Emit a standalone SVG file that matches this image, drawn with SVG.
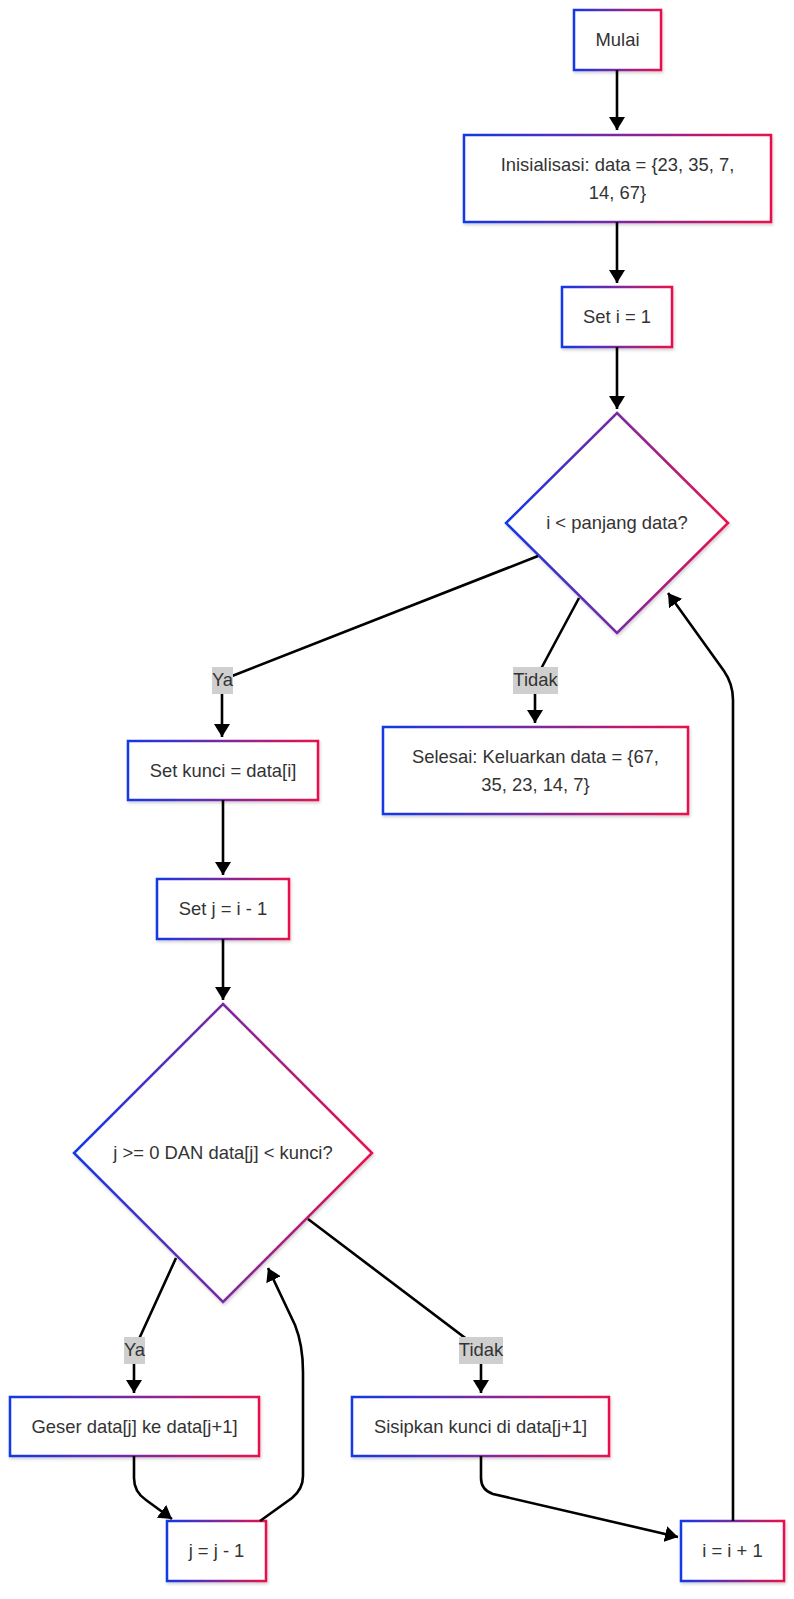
<svg xmlns="http://www.w3.org/2000/svg" width="794" height="1599" viewBox="0 0 794 1599">
<defs>
<linearGradient id="g" x1="0" y1="0" x2="1" y2="0">
<stop offset="0" stop-color="#1238e6"/>
<stop offset="0.5" stop-color="#7a2aa0"/>
<stop offset="1" stop-color="#e8114c"/>
</linearGradient>
<filter id="sh" x="-10%" y="-10%" width="130%" height="130%">
<feDropShadow dx="1" dy="2" stdDeviation="1.5" flood-color="#000" flood-opacity="0.18"/>
</filter>
<marker id="arr" viewBox="0 0 13 16" refX="13" refY="8" markerWidth="13" markerHeight="16" markerUnits="userSpaceOnUse" orient="auto">
<path d="M0,0 L13,8 L0,16 z" fill="#000"/>
</marker>
</defs>
<style>
.n{fill:#fff;stroke:url(#g);stroke-width:2.5;filter:url(#sh)}
.t{font-family:"Liberation Sans",Arial,sans-serif;font-size:18.4px;fill:#333;text-anchor:middle}
.e{fill:none;stroke:#000;stroke-width:2.6;marker-end:url(#arr)}
.lb{fill:#cfcfcf}
</style>
<rect width="794" height="1599" fill="#fff"/>
<g id="nodes">
<g id="mulai"><rect class="n" x="574" y="10" width="87" height="60"/><text class="t" x="617.5" y="46">Mulai</text></g>
<g id="init"><rect class="n" x="464" y="135" width="307" height="87"/><text class="t" x="617.5" y="171">Inisialisasi: data = {23, 35, 7,</text><text class="t" x="617.5" y="199">14, 67}</text></g>
<g id="seti"><rect class="n" x="562" y="287" width="110" height="60"/><text class="t" x="617" y="323">Set i = 1</text></g>
<g id="cek1"><polygon class="n" points="617,413 728,523 617,633 506,523"/><text class="t" x="617" y="529">i &lt; panjang data?</text></g>
<g id="kunci"><rect class="n" x="128" y="741" width="190" height="59"/><text class="t" x="223" y="777">Set kunci = data[i]</text></g>
<g id="selesai"><rect class="n" x="383" y="727" width="305" height="87"/><text class="t" x="535.5" y="763">Selesai: Keluarkan data = {67,</text><text class="t" x="535.5" y="791">35, 23, 14, 7}</text></g>
<g id="setj"><rect class="n" x="157" y="879" width="132" height="60"/><text class="t" x="223" y="915">Set j = i - 1</text></g>
<g id="cek2"><polygon class="n" points="223,1004 372,1153 223,1302 74,1153"/><text class="t" x="223" y="1159">j &gt;= 0 DAN data[j] &lt; kunci?</text></g>
<g id="geser"><rect class="n" x="10" y="1397" width="249" height="59"/><text class="t" x="134.5" y="1433">Geser data[j] ke data[j+1]</text></g>
<g id="sisip"><rect class="n" x="352" y="1397" width="257" height="59"/><text class="t" x="480.5" y="1433">Sisipkan kunci di data[j+1]</text></g>
<g id="jdec"><rect class="n" x="167" y="1521" width="99" height="60"/><text class="t" x="216.5" y="1557">j = j - 1</text></g>
<g id="iinc"><rect class="n" x="681" y="1521" width="103" height="60"/><text class="t" x="732.5" y="1557">i = i + 1</text></g>
</g>
<g id="connectors">
<path class="e" d="M617,70 L617,130"/>
<path class="e" d="M617,222 L617,283"/>
<path class="e" d="M617,347 L617,409"/>
<path class="e" d="M538,556 L222,680 L222,737"/>
<path class="e" d="M579,598 L535,680 L535,723"/>
<path class="e" d="M223,800 L223,875"/>
<path class="e" d="M223,939 L223,1000"/>
<path class="e" d="M176,1258 L134,1350 L134,1393"/>
<path class="e" d="M308,1219 L481,1350 L481,1393"/>
<path class="e" d="M134,1456 L134,1478 Q134,1492 146,1500 L172,1519"/>
<path class="e" d="M260,1521 L292,1498 Q303,1489 303,1476 L303,1372 Q303,1345 295,1325 L268,1268"/>
<path class="e" d="M481,1456 L481,1478 Q481,1490 493,1494 L678,1537"/>
<path class="e" d="M733,1521 L733,700 Q733,684 724,671 L668,593"/>
</g>
<g id="labels">
<g><rect class="lb" x="212" y="667" width="21" height="27"/><text class="t" x="222.5" y="686">Ya</text></g>
<g><rect class="lb" x="513" y="667" width="45" height="27"/><text class="t" x="535.5" y="686">Tidak</text></g>
<g><rect class="lb" x="124" y="1337" width="21" height="27"/><text class="t" x="134.5" y="1356">Ya</text></g>
<g><rect class="lb" x="459" y="1337" width="44" height="27"/><text class="t" x="481" y="1356">Tidak</text></g>
</g>
</svg>
